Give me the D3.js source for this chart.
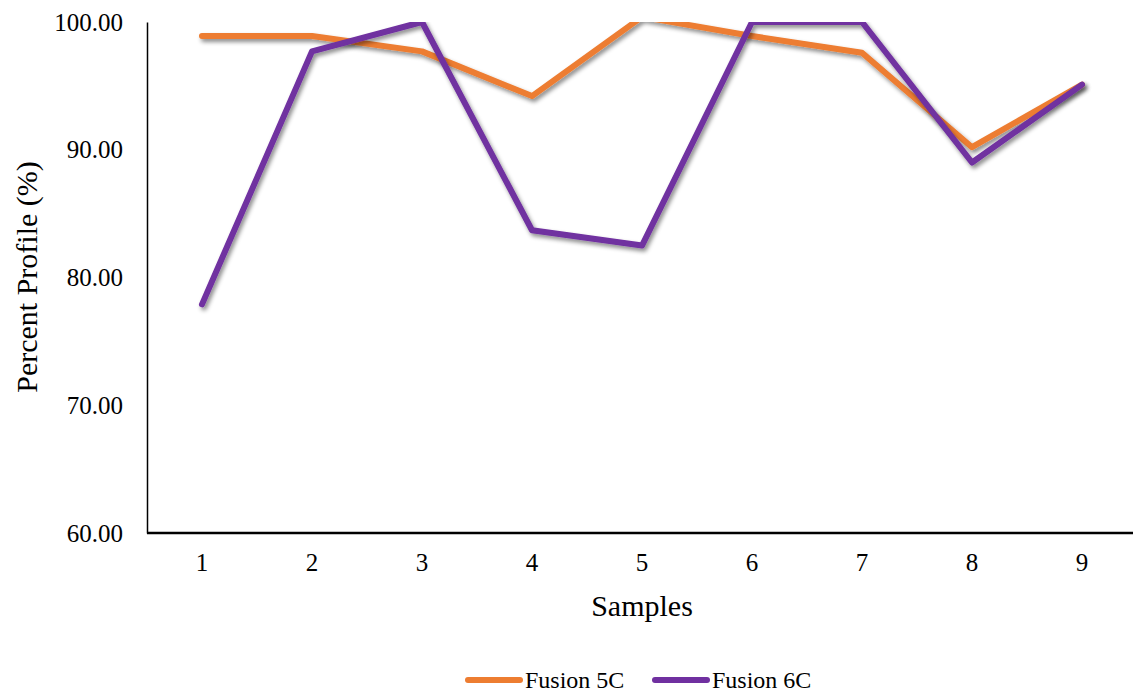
<html>
  <head>
    <title>Percent Profile</title>
    <script src="https://d3js.org/d3.v7.min.js"></script>
    <style>
      body { margin: 0; background: #fff; }
      text { font-family: "Liberation Serif", "Times New Roman", serif; fill: #000; }
    </style>
  </head>
  <body>
    <svg width="1133" height="694" id="chart"></svg>
  </body>

  <script type="text/javascript">
    var samples = ["1", "2", "3", "4", "5", "6", "7", "8", "9"];
    var fusion5C = [98.9, 98.9, 97.7, 94.2, 100.4, 98.9, 97.6, 90.2, 95.1];
    var fusion6C = [77.9, 97.7, 100.0, 83.7, 82.5, 100.0, 100.0, 89.0, 95.1];
    var yTicks = [60, 70, 80, 90, 100];
    var seriesNames = ["Fusion 5C", "Fusion 6C"];
    var colors = ["#ED7D31", "#7030A0"];

    var svg = d3.select("#chart");
    var plotLeft = 147, plotRight = 1137, plotTop = 22, plotBottom = 533;

    var x = d3.scaleBand().domain(samples).range([plotLeft, plotRight]).padding(0);
    var y = d3.scaleLinear().domain([60, 100]).range([plotBottom, plotTop]);

    var defs = svg.append("defs");
    defs.append("clipPath").attr("id", "plot-clip")
      .append("rect")
      .attr("x", plotLeft).attr("y", plotTop)
      .attr("width", 1133 - plotLeft).attr("height", plotBottom - plotTop);
    var f = defs.append("filter").attr("id", "shadow")
      .attr("x", "-10%").attr("y", "-10%").attr("width", "120%").attr("height", "130%");
    f.append("feDropShadow")
      .attr("dx", 2).attr("dy", 3).attr("stdDeviation", 2)
      .attr("flood-color", "#000").attr("flood-opacity", 0.45);

    // y axis
    var yAxis = svg.append("g")
      .attr("transform", "translate(" + plotLeft + ",0)")
      .call(d3.axisLeft(y).tickValues(yTicks).tickSize(0).tickPadding(24)
        .tickFormat(d3.format(".2f")));
    yAxis.select(".domain").attr("stroke", "#000").attr("stroke-width", 1.5);
    yAxis.selectAll("text").style("font-size", "25px")
      .style("font-family", "Liberation Serif, Times New Roman, serif");

    // x axis
    var xAxis = svg.append("g")
      .attr("transform", "translate(0," + plotBottom + ")")
      .call(d3.axisBottom(x).tickSize(0).tickPadding(20));
    xAxis.select(".domain").attr("d", "M" + plotLeft + ",0H1133")
      .attr("stroke", "#000").attr("stroke-width", 2.5);
    xAxis.selectAll("text").style("font-size", "25px")
      .style("font-family", "Liberation Serif, Times New Roman, serif");

    // titles
    svg.append("text")
      .attr("x", 642).attr("y", 616)
      .attr("text-anchor", "middle")
      .style("font-size", "30px")
      .text("Samples");
    svg.append("text")
      .attr("transform", "translate(37,277) rotate(-90)")
      .attr("text-anchor", "middle")
      .style("font-size", "30px")
      .text("Percent Profile (%)");

    // lines
    var line = d3.line()
      .x(function(d, i) { return x(samples[i]) + x.bandwidth() / 2; })
      .y(function(d) { return y(d); });

    var plot = svg.append("g").attr("clip-path", "url(#plot-clip)");
    [fusion5C, fusion6C].forEach(function(vals, k) {
      plot.append("path")
        .attr("d", line(vals))
        .attr("fill", "none")
        .attr("stroke", colors[k])
        .attr("stroke-width", 6)
        .attr("stroke-linejoin", "round")
        .attr("stroke-linecap", "round")
        .attr("filter", "url(#shadow)");
    });

    // legend
    var legendX = [468, 655];
    seriesNames.forEach(function(name, k) {
      var g = svg.append("g").attr("transform", "translate(" + legendX[k] + ",680)");
      g.append("line")
        .attr("x1", 0).attr("x2", 52).attr("y1", 0).attr("y2", 0)
        .attr("stroke", colors[k]).attr("stroke-width", 6)
        .attr("stroke-linecap", "round");
      g.append("text")
        .attr("x", 57).attr("y", 8)
        .style("font-size", "24px")
        .text(name);
    });
  </script>
</html>
